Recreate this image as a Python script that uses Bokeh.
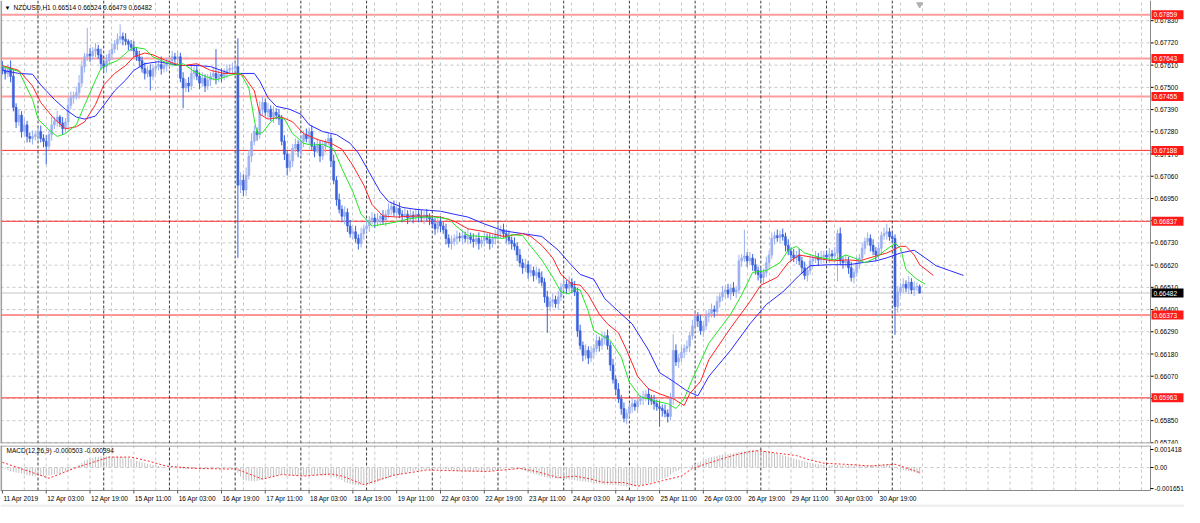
from bokeh.plotting import figure
from bokeh.models import Range1d, FixedTicker, Span, Label, ColumnDataSource
from bokeh.layouts import column
from bokeh.embed import file_html
from bokeh.resources import INLINE
from bokeh.core.properties import value

FONT = "Liberation Sans"
FS = "6.5px"

# ---------------- data (NZDUSD H1, bar index 0 = 11 Apr 2019 11:00) ----------------
closes = [
    0.67584, 0.67569, 0.67593, 0.67555, 0.67401, 0.67329, 0.67362, 0.67281, 0.67314, 0.67257, 0.67247, 0.67257, 0.67266,
    0.67281, 0.67247, 0.67233, 0.67208, 0.67266, 0.67314, 0.67334, 0.67353, 0.67324, 0.67295, 0.67329, 0.67411,
    0.67449, 0.67459, 0.67473, 0.67521, 0.67603, 0.67651, 0.67665, 0.67656, 0.67680, 0.67690, 0.67661, 0.67617,
    0.67603, 0.67632, 0.67665, 0.67690, 0.67714, 0.67738, 0.67752, 0.67738, 0.67728, 0.67714, 0.67699, 0.67680,
    0.67651, 0.67632, 0.67593, 0.67569, 0.67584, 0.67555, 0.67593, 0.67603, 0.67613, 0.67593, 0.67608, 0.67617,
    0.67632, 0.67651, 0.67641, 0.67651, 0.67545, 0.67497, 0.67521, 0.67507, 0.67569, 0.67584, 0.67555, 0.67521,
    0.67545, 0.67507, 0.67536, 0.67555, 0.67569, 0.67545, 0.67564, 0.67555, 0.67574, 0.67584, 0.67593, 0.67593,
    0.67603, 0.67016, 0.67040, 0.66992, 0.67064, 0.67160, 0.67233, 0.67281, 0.67266, 0.67391, 0.67425, 0.67377,
    0.67391, 0.67353, 0.67377, 0.67362, 0.67343, 0.67233, 0.67170, 0.67103, 0.67136, 0.67199, 0.67218, 0.67184,
    0.67233, 0.67266, 0.67247, 0.67281, 0.67208, 0.67184, 0.67218, 0.67160, 0.67208, 0.67233, 0.67247, 0.67136,
    0.67040, 0.66944, 0.66896, 0.66862, 0.66881, 0.66814, 0.66776, 0.66785, 0.66752, 0.66727, 0.66776, 0.66800,
    0.66814, 0.66843, 0.66853, 0.66833, 0.66848, 0.66862, 0.66843, 0.66872, 0.66896, 0.66910, 0.66881, 0.66901,
    0.66872, 0.66862, 0.66872, 0.66853, 0.66867, 0.66857, 0.66872, 0.66862, 0.66853, 0.66867, 0.66857, 0.66848,
    0.66824, 0.66800, 0.66833, 0.66814, 0.66795, 0.66752, 0.66727, 0.66737, 0.66752, 0.66761, 0.66756, 0.66766,
    0.66752, 0.66761, 0.66747, 0.66737, 0.66752, 0.66727, 0.66742, 0.66756, 0.66747, 0.66727, 0.66752, 0.66766,
    0.66785, 0.66795, 0.66776, 0.66761, 0.66742, 0.66727, 0.66713, 0.66670, 0.66631, 0.66607, 0.66622, 0.66583,
    0.66593, 0.66569, 0.66583, 0.66559, 0.66535, 0.66463, 0.66415, 0.66439, 0.66449, 0.66429, 0.66463, 0.66511,
    0.66525, 0.66506, 0.66535, 0.66511, 0.66487, 0.66295, 0.66222, 0.66174, 0.66198, 0.66160, 0.66189, 0.66208,
    0.66246, 0.66222, 0.66256, 0.66271, 0.66222, 0.66126, 0.66054, 0.66006, 0.65958, 0.65910, 0.65862, 0.65886,
    0.65919, 0.65934, 0.65919, 0.65948, 0.65958, 0.65968, 0.65982, 0.65958, 0.65948, 0.65934, 0.65919, 0.65910,
    0.65900, 0.65886, 0.65871, 0.65958, 0.66198, 0.66141, 0.66160, 0.66189, 0.66208, 0.66218, 0.66271, 0.66319,
    0.66367, 0.66343, 0.66295, 0.66319, 0.66367, 0.66381, 0.66400, 0.66391, 0.66439, 0.66463, 0.66487, 0.66497,
    0.66477, 0.66506, 0.66487, 0.66497, 0.66641, 0.66655, 0.66665, 0.66641, 0.66655, 0.66622, 0.66593, 0.66574,
    0.66559, 0.66583, 0.66632, 0.66670, 0.66752, 0.66766, 0.66756, 0.66771, 0.66761, 0.66718, 0.66689, 0.66670,
    0.66655, 0.66670, 0.66641, 0.66607, 0.66569, 0.66593, 0.66641, 0.66651, 0.66660, 0.66646, 0.66660, 0.66670,
    0.66660, 0.66675, 0.66665, 0.66680, 0.66776, 0.66641, 0.66632, 0.66641, 0.66607, 0.66559, 0.66583, 0.66632,
    0.66655, 0.66703, 0.66737, 0.66752, 0.66718, 0.66689, 0.66670, 0.66703, 0.66766, 0.66776, 0.66785, 0.66761,
    0.66752, 0.66415, 0.66487, 0.66511, 0.66525, 0.66506, 0.66535, 0.66497, 0.66511, 0.66514, 0.66482,
]
first_open = 0.67600

# wick lengths beyond the candle body, in pips
upper_wick_pips = [
    3, 2, 2, 4, 3, 2, 3, 2, 3, 2, 2, 3, 2,
    2, 3, 2, 3, 2, 4, 2, 3, 1, 3, 2, 4, 3, 2, 3, 4, 3, 2, 13, 3, 2, 3, 2, 3,
    2, 3, 2, 3, 2, 3, 6, 2, 3, 1, 2, 3, 2, 3, 2, 3, 2, 3, 2, 3, 2, 4, 2, 3,
    2, 3, 2, 3, 2, 3, 2, 3, 4, 2, 3, 2, 3, 2, 3, 2, 3, 12, 2, 3, 2, 3, 2, 3,
    3, 14, 4, 3, 4, 3, 4, 3, 2, 4, 3, 2, 3, 2, 3, 2, 3, 2, 3, 2, 3, 2, 3, 2,
    3, 2, 3, 2, 3, 2, 3, 2, 3, 1, 3, 2, 3, 2, 3, 2, 3, 2, 3, 2, 3, 2, 3, 2,
    3, 2, 3, 2, 3, 1, 3, 2, 3, 2, 3, 2, 3, 2, 3, 2, 3, 2, 3, 2, 3, 2, 3, 2,
    2, 3, 2, 3, 2, 3, 2, 3, 2, 3, 2, 3, 2, 4, 2, 3, 2, 3, 2, 3, 2, 3, 2, 3,
    5, 2, 3, 2, 3, 2, 3, 2, 3, 2, 3, 2, 3, 2, 3, 2, 3, 2, 3, 2, 3, 2, 3, 2,
    3, 2, 3, 2, 3, 2, 3, 2, 3, 2, 3, 2, 3, 2, 3, 2, 3, 2, 3, 2, 3, 2, 3, 2,
    2, 3, 2, 3, 2, 3, 2, 3, 2, 3, 2, 3, 2, 3, 2, 3, 8, 3, 2, 3, 2, 3, 2, 3,
    3, 2, 3, 2, 3, 2, 3, 2, 3, 2, 3, 2, 3, 2, 3, 2, 3, 2, 13, 2, 3, 2, 3, 2,
    3, 2, 3, 2, 3, 2, 3, 2, 3, 2, 3, 2, 3, 2, 3, 2, 3, 2, 3, 2, 3, 2, 3, 2,
    2, 3, 2, 3, 2, 3, 2, 3, 2, 3, 2, 3, 2, 3, 2, 3, 2, 3, 2, 3, 2, 3, 4, 2,
    2, 2, 3, 2, 3, 2, 3, 2, 3, 2, 1,
]
lower_wick_pips = [
    2, 3, 2, 3, 2, 3, 2, 3, 2, 3, 2, 3, 2,
    3, 2, 3, 9, 2, 3, 2, 3, 2, 3, 2, 3, 2, 3, 2, 3, 2, 3, 2, 3, 2, 3, 2, 3,
    2, 3, 2, 3, 2, 3, 2, 3, 2, 3, 2, 3, 2, 3, 2, 3, 2, 7, 2, 3, 2, 3, 2, 3,
    2, 3, 2, 3, 2, 10, 2, 3, 2, 3, 2, 3, 2, 3, 2, 3, 2, 3, 2, 3, 2, 3, 2, 3,
    2, 36, 4, 3, 3, 2, 3, 2, 3, 2, 3, 2, 3, 2, 3, 2, 3, 2, 3, 4, 2, 3, 2, 3,
    2, 3, 2, 3, 2, 3, 1, 3, 2, 3, 2, 3, 2, 3, 2, 3, 4, 3, 2, 3, 2, 3, 2, 3,
    2, 3, 2, 3, 2, 3, 2, 3, 2, 3, 2, 3, 2, 3, 1, 3, 2, 3, 2, 3, 2, 3, 2, 3,
    2, 3, 2, 3, 2, 3, 2, 3, 2, 3, 2, 3, 2, 3, 2, 3, 2, 3, 2, 3, 2, 3, 2, 3,
    2, 3, 2, 3, 2, 3, 2, 3, 2, 3, 2, 3, 2, 3, 2, 3, 2, 3, 13, 2, 3, 2, 3, 2,
    2, 3, 2, 3, 2, 3, 2, 3, 2, 3, 2, 3, 2, 3, 2, 3, 2, 3, 2, 3, 2, 3, 2, 3,
    2, 3, 2, 3, 2, 3, 2, 3, 2, 3, 2, 9, 3, 2, 3, 2, 3, 2, 3, 2, 3, 2, 3, 2,
    2, 3, 2, 3, 2, 3, 2, 3, 2, 3, 2, 3, 2, 3, 2, 3, 2, 3, 2, 3, 2, 3, 2, 3,
    2, 3, 2, 3, 2, 3, 2, 3, 2, 3, 2, 3, 2, 3, 2, 3, 2, 3, 2, 3, 2, 3, 2, 3,
    2, 3, 2, 3, 14, 2, 3, 2, 3, 2, 3, 2, 3, 2, 3, 2, 3, 2, 3, 2, 3, 2, 3, 2,
    2, 14, 3, 2, 3, 2, 3, 2, 3, 2, 0.3,
]

# Alligator lines (bar index, price)
lips_bars = [0, 6, 11, 13, 17, 20, 23, 27, 30, 34, 36, 39, 42, 46, 48, 52, 55, 59, 63, 66, 70, 73, 78, 83, 87, 90, 92, 93, 95, 98,
             100, 103, 106, 110, 113, 117, 121, 124, 128, 131, 135, 140, 144, 148, 153, 158, 163, 166, 170, 175, 183, 186, 190, 193,
             197, 201, 204, 207, 209, 211, 214, 216, 219, 222, 226, 229, 233, 238, 243, 246, 249, 252, 258, 266, 270, 274, 279, 284,
             287, 290, 293, 299, 304, 308, 311, 315, 319, 322, 326, 328, 330, 334, 337]
lips_vals = [0.67603, 0.67579, 0.67440, 0.67343, 0.67290, 0.67257, 0.67271, 0.67315, 0.67411, 0.67536, 0.67593, 0.67617, 0.67632,
             0.67680, 0.67699, 0.67690, 0.67651, 0.67627, 0.67608, 0.67617, 0.67579, 0.67560, 0.67536, 0.67560, 0.67569, 0.67497,
             0.67339, 0.67271, 0.67276, 0.67329, 0.67353, 0.67343, 0.67271, 0.67223, 0.67214, 0.67218, 0.67194, 0.67098, 0.66983,
             0.66872, 0.66814, 0.66824, 0.66834, 0.66848, 0.66858, 0.66858, 0.66848, 0.66810, 0.66766, 0.66762, 0.66752, 0.66771,
             0.66766, 0.66713, 0.66646, 0.66560, 0.66487, 0.66478, 0.66502, 0.66497, 0.66391, 0.66295, 0.66271, 0.66247, 0.66165,
             0.66040, 0.65968, 0.65949, 0.65934, 0.65910, 0.65959, 0.66055, 0.66233, 0.66377, 0.66473, 0.66584, 0.66593, 0.66632,
             0.66694, 0.66713, 0.66680, 0.66656, 0.66646, 0.66670, 0.66656, 0.66632, 0.66656, 0.66689, 0.66728, 0.66704, 0.66598,
             0.66550, 0.66526]
teeth_bars = [0, 6, 11, 14, 19, 23, 27, 30, 34, 37, 41, 45, 48, 52, 55, 59, 63, 66, 71, 76, 81, 85, 88, 92, 94, 97, 102, 106, 110,
              115, 120, 124, 128, 132, 135, 139, 144, 150, 156, 160, 165, 170, 176, 183, 190, 193, 197, 201, 204, 208, 211, 214,
              218, 221, 225, 228, 232, 236, 240, 245, 249, 251, 255, 258, 266, 273, 277, 283, 287, 291, 297, 303, 309, 313, 319,
              323, 328, 330, 333, 335, 340]
teeth_vals = [0.67608, 0.67584, 0.67507, 0.67425, 0.67343, 0.67295, 0.67305, 0.67329, 0.67415, 0.67512, 0.67569, 0.67608,
              0.67651, 0.67670, 0.67661, 0.67637, 0.67617, 0.67608, 0.67617, 0.67584, 0.67569, 0.67569, 0.67560, 0.67483,
              0.67367, 0.67343, 0.67353, 0.67329, 0.67271, 0.67242, 0.67223, 0.67194, 0.67113, 0.67016, 0.66920, 0.66863,
              0.66858, 0.66863, 0.66863, 0.66858, 0.66838, 0.66800, 0.66786, 0.66762, 0.66776, 0.66762, 0.66718, 0.66656,
              0.66574, 0.66526, 0.66521, 0.66473, 0.66377, 0.66329, 0.66285, 0.66199, 0.66069, 0.66007, 0.65983, 0.65959,
              0.65925, 0.65983, 0.66045, 0.66151, 0.66310, 0.66439, 0.66521, 0.66560, 0.66632, 0.66670, 0.66656, 0.66641,
              0.66646, 0.66641, 0.66665, 0.66680, 0.66713, 0.66713, 0.66670, 0.66622, 0.66569]
jaw_bars = [0, 6, 11, 14, 19, 23, 27, 30, 34, 37, 41, 45, 48, 52, 57, 61, 66, 71, 76, 83, 92, 94, 97, 100, 105, 109, 112, 117,
            122, 127, 130, 134, 138, 141, 146, 151, 156, 160, 165, 170, 176, 183, 190, 197, 203, 207, 211, 216, 220, 225, 230,
            236, 240, 245, 250, 254, 258, 266, 273, 279, 285, 291, 295, 302, 309, 314, 319, 323, 328, 333, 337, 341, 346, 351]
jaw_vals = [0.67584, 0.67569, 0.67565, 0.67512, 0.67440, 0.67391, 0.67353, 0.67343, 0.67358, 0.67411, 0.67483, 0.67536,
            0.67584, 0.67617, 0.67627, 0.67617, 0.67608, 0.67608, 0.67603, 0.67569, 0.67569, 0.67531, 0.67449, 0.67406,
            0.67391, 0.67367, 0.67315, 0.67281, 0.67266, 0.67223, 0.67175, 0.67079, 0.66983, 0.66935, 0.66906, 0.66896,
            0.66891, 0.66887, 0.66872, 0.66858, 0.66824, 0.66790, 0.66776, 0.66762, 0.66694, 0.66632, 0.66574, 0.66550,
            0.66454, 0.66391, 0.66329, 0.66199, 0.66088, 0.66045, 0.65997, 0.65973, 0.66069, 0.66199, 0.66329, 0.66425,
            0.66487, 0.66569, 0.66617, 0.66622, 0.66622, 0.66632, 0.66641, 0.66656, 0.66680, 0.66694, 0.66656, 0.66617,
            0.66593, 0.66569]

# horizontal levels
levels_light = [0.67859, 0.67643, 0.67455]
levels_red = [0.67188, 0.66837, 0.66373, 0.65963]
price_ticks = [0.65740, 0.65850, 0.65960, 0.66070, 0.66180, 0.66290, 0.66400, 0.66510, 0.66620, 0.66730,
               0.66840, 0.66950, 0.67060, 0.67170, 0.67280, 0.67390, 0.67500, 0.67610, 0.67720, 0.67830]

# time axis
time_tick_bars = [0, 16, 32, 48, 64, 80, 96, 112, 128, 144, 160, 176, 192, 208, 224, 240, 256, 272, 288, 304, 320]
time_labels = ["11 Apr 2019", "12 Apr 03:00", "12 Apr 19:00", "15 Apr 11:00", "16 Apr 03:00", "16 Apr 19:00",
               "17 Apr 11:00", "18 Apr 03:00", "18 Apr 19:00", "19 Apr 11:00", "22 Apr 03:00", "22 Apr 19:00",
               "23 Apr 11:00", "24 Apr 03:00", "24 Apr 19:00", "25 Apr 11:00", "26 Apr 03:00", "26 Apr 19:00",
               "29 Apr 11:00", "30 Apr 03:00", "30 Apr 19:00"]
day_start_bars = [13, 37, 61, 85, 109, 133, 157, 181, 205, 229, 253, 277, 301, 325]
grid_bars = list(range(8, 420, 8))

# MACD(12,26,9): main line (histogram) per bar and signal line, in units of 1e-5
macd_hist_e5 = [
    -5, -12, -20, -28, -35, -40, -43, -48, -55, -60, -64, -67, -68, -68, -67, -66, -64, -62,
    -58, -54, -49, -44, -38, -31, -24, -16, -6, 5, 20, 36, 53, 62, 70, 76, 82, 85,
    87, 88, 89, 89, 88, 87, 86, 85, 84, 80, 74, 67, 60, 53, 47, 41, 35, 30,
    26, 21, 17, 12, 8, 4, 1, -2, -4, -6, -8, -10, -11, -12, -12, -12, -12, -12,
    -11, -11, -10, -10, -9, -9, -8, -8, -8, -7, -7, -7, -6, -7, -40, -70, -98, -102,
    -105, -107, -108, -106, -100, -92, -85, -79, -74, -69, -64, -59, -56, -55, -56, -58, -60, -62,
    -64, -65, -65, -64, -63, -62, -61, -60, -61, -62, -64, -66, -67, -72, -80, -90, -100, -115,
    -122, -128, -133, -136, -139, -139, -138, -136, -134, -128, -120, -112, -103, -95, -88, -81, -74, -67,
    -61, -55, -49, -43, -37, -31, -27, -23, -20, -17, -15, -14, -13, -13, -12, -12, -12, -12,
    -15, -19, -23, -26, -29, -31, -32, -32, -32, -32, -31, -31, -30, -29, -28, -26, -24, -22,
    -18, -14, -10, -7, -7, -8, -9, -10, -11, -12, -18, -26, -35, -42, -49, -55, -62, -68,
    -74, -79, -82, -84, -86, -88, -89, -90, -91, -94, -97, -100, -103, -106, -110, -112, -115, -118,
    -121, -124, -127, -130, -133, -135, -136, -137, -139, -141, -145, -148, -151, -150, -148, -146, -143, -139,
    -135, -130, -125, -120, -115, -107, -99, -91, -82, -74, -55, -40, -31, -22, -14, -8, -2, 8,
    18, 27, 36, 46, 56, 66, 77, 82, 87, 92, 97, 101, 104, 107, 110, 113, 118, 122,
    126, 130, 134, 137, 137, 136, 135, 134, 133, 132, 128, 120, 113, 108, 102, 96, 90, 84,
    78, 72, 66, 60, 53, 47, 42, 38, 34, 29, 26, 23, 21, 19, 17, 17, 17, 18,
    17, 17, 17, 17, 16, 16, 16, 17, 17, 17, 18, 19, 20, 21, 22, 23, 24, 25,
    26, 20, 5, -8, -19, -22, -25, -28, -31, -38, -44, -50.3,
]
signal_bars = [0, 17, 27, 39, 47, 53, 60, 71, 83, 85, 95, 102, 110, 120, 124, 132, 143, 155, 167, 177, 189, 195, 203, 209,
               215, 219, 227, 232, 237, 241, 248, 252, 257, 263, 268, 273, 276, 283, 290, 294, 300, 311, 317, 323, 326, 329, 335]
signal_e5 = [41, -84, 0, 82, 82, 53, 10, -7, -12, -8, -91, -55, -67, -50, -67, -134, -60, -19, -26, -31, -7, -31, -79, -67,
             -91, -115, -118, -146, -127, -103, -67, -7, 29, 70, 101, 125, 132, 113, 94, 65, 34, 22, 12, 22, 26, 5, -39.4]
macd_range = (-0.001651, 0.001418)

n = len(closes)
assert len(upper_wick_pips) == n and len(lower_wick_pips) == n and len(macd_hist_e5) == n, \
    (n, len(upper_wick_pips), len(lower_wick_pips), len(macd_hist_e5))

opens = [first_open] + closes[:-1]
xs = list(range(n))
tops = [max(o, c) for o, c in zip(opens, closes)]
bots = [min(o, c) for o, c in zip(opens, closes)]
highs = [t + u * 1e-4 for t, u in zip(tops, upper_wick_pips)]
lows = [b - l * 1e-4 for b, l in zip(bots, lower_wick_pips)]
BULL, BEAR = "#9cb0f0", "#3a62dc"
cols = [BULL if c >= o else BEAR for o, c in zip(opens, closes)]
cur_price = closes[-1]

# ---------------- geometry ----------------
FW = 1184                 # frame width in px (chart + price scale area)
PPB = 2.738               # px per bar
X0 = -0.7
X1 = X0 + FW / PPB
PX = 1.0 / PPB            # one pixel, in bar units
AX = X0 + 1150 * PX       # position of the price scale line
Y0, Y1 = 0.65737, 0.67930
FH = 443
PY = (Y1 - Y0) / FH
XR = Range1d(X0, X1)
AXIS_GREY = "#8a8a8a"
GRID = "#c8c8c8"
SEP = "#3a3a3a"


def text_list(fig, xv, yv, labels, color="#000000", align="left"):
    fig.text(x=xv, y=yv, text=labels, text_font=value(FONT), text_font_size=value(FS),
             text_baseline="middle", text_align=align, text_color=color)


# ---------------- main price panel ----------------
p = figure(frame_width=FW, frame_height=FH, x_range=XR, y_range=Range1d(Y0, Y1),
           x_axis_location=None, y_axis_location=None, output_backend="svg", toolbar_location=None,
           min_border_left=0, min_border_right=0, min_border_top=0, min_border_bottom=2)
p.background_fill_color = "white"
p.border_fill_color = "white"
p.outline_line_color = None
p.ygrid.visible = False
p.xgrid.ticker = FixedTicker(ticks=grid_bars)
p.xgrid.grid_line_color = GRID
p.xgrid.grid_line_dash = "3 3"

m = len(price_ticks)
p.segment(x0=[X0] * m, y0=price_ticks, x1=[AX] * m, y1=price_ticks, line_color=GRID,
          line_dash="3 3", line_width=1, level="underlay")
for b in day_start_bars:
    p.add_layout(Span(location=b, dimension="height", line_color=SEP, line_dash="3 2", line_width=1,
                      level="underlay"))
lv_all = levels_light + levels_red
p.segment(x0=[X0] * 3, y0=levels_light, x1=[AX] * 3, y1=levels_light, line_color="#ff9c9c", line_width=2,
          level="underlay")
p.segment(x0=[X0] * 4, y0=levels_red, x1=[AX] * 4, y1=levels_red, line_color="#ff2a2a", line_width=1,
          level="underlay")
p.segment(x0=[X0], y0=[cur_price], x1=[AX], y1=[cur_price], line_color="#c4c4c4", line_width=1, level="underlay")

src = ColumnDataSource(dict(x=xs, top=tops, bottom=bots, high=highs, low=lows, color=cols))
p.segment(x0="x", y0="low", x1="x", y1="high", line_color="color", line_width=1, source=src)
p.vbar(x="x", width=0.72, top="top", bottom="bottom", fill_color="color", line_color="color", line_width=0.6,
       source=src)

p.line(jaw_bars, jaw_vals, line_color="#2a2aff", line_width=1)
p.line(teeth_bars, teeth_vals, line_color="#ff2424", line_width=1)
p.line(lips_bars, lips_vals, line_color="#22e622", line_width=1)

p.scatter([n - 1], [Y1 - 4 * PY], marker="inverted_triangle", size=6, fill_color="#b0b0b0", line_color="#b0b0b0")

# frame lines and price scale
p.add_layout(Span(location=AX, dimension="height", line_color=AXIS_GREY, line_width=1))
p.add_layout(Span(location=X0 + 0.6 * PX, dimension="height", line_color="#a0a0a0", line_width=2))
p.segment(x0=[X0], y0=[Y0 + 0.5 * PY], x1=[AX], y1=[Y0 + 0.5 * PY], line_color=AXIS_GREY, line_width=1)
p.segment(x0=[AX] * m, y0=price_ticks, x1=[AX + 3 * PX] * m, y1=price_ticks, line_color="#000000", line_width=1)
text_list(p, [AX + 4 * PX] * m, price_ticks, [f"{t:.5f}" for t in price_ticks])

k = len(lv_all)
p.quad(left=[AX + 1 * PX] * k, right=[AX + 33 * PX] * k, bottom=[v - 4.5 * PY for v in lv_all],
       top=[v + 4.5 * PY for v in lv_all], fill_color="#ff1a1a", line_color=None)
text_list(p, [AX + 3 * PX] * k, lv_all, [f"{v:.5f}" for v in lv_all], color="#ffffff")
p.quad(left=[AX + 1 * PX], right=[AX + 33 * PX], bottom=[cur_price - 4.5 * PY], top=[cur_price + 4.5 * PY],
       fill_color="#000000", line_color=None)
text_list(p, [AX + 3 * PX], [cur_price], [f"{cur_price:.5f}"], color="#ffffff")

o, h, l, c = opens[-1], highs[-1], lows[-1], closes[-1]
p.add_layout(Label(x=X0 + 4 * PX, y=Y1 - 7 * PY, text="\u25bc", text_font=FONT, text_font_size="6px",
                   text_baseline="middle", text_color="#000000"))
p.add_layout(Label(x=X0 + 13 * PX, y=Y1 - 7 * PY, text=f"NZDUSD,H1  {o:.5f} {h:.5f} {l:.5f} {c:.5f}",
                   text_font=FONT, text_font_size=FS, text_baseline="middle", text_color="#000000"))

# ---------------- MACD panel (with the time scale drawn beneath it) ----------------
lo, hi = macd_range
span = hi - lo
QY0, QY1 = lo - span * 0.05, hi + span * 0.102      # indicator window
QFH = 45
QPY = (QY1 - QY0) / QFH
LAB_H = 17                                           # px for the time scale
QYB = QY0 - LAB_H * QPY
q = figure(frame_width=FW, frame_height=QFH + LAB_H, x_range=XR, y_range=Range1d(QYB, QY1),
           x_axis_location=None, y_axis_location=None, output_backend="svg", toolbar_location=None,
           min_border_left=0, min_border_right=0, min_border_top=0, min_border_bottom=0)
q.background_fill_color = "white"
q.border_fill_color = "white"
q.outline_line_color = None
q.grid.visible = False

g = len(grid_bars)
q.segment(x0=grid_bars, y0=[QY0] * g, x1=grid_bars, y1=[QY1] * g, line_color=GRID, line_dash="3 3",
          level="underlay")
d = len(day_start_bars)
q.segment(x0=day_start_bars, y0=[QY0] * d, x1=day_start_bars, y1=[QY1] * d, line_color=SEP, line_dash="3 2",
          level="underlay")
q.segment(x0=[X0], y0=[0.0], x1=[AX], y1=[0.0], line_color=GRID, line_dash="3 3", level="underlay")

macd_hist = [v * 1e-5 for v in macd_hist_e5]
signal_vals = [v * 1e-5 for v in signal_e5]
q.segment(x0=xs, y0=[0.0] * n, x1=xs, y1=macd_hist, line_color="#c2c2c2", line_width=1)
q.line(signal_bars, signal_vals, line_color="#ff2a2a", line_width=1, line_dash="2 2")
q.add_layout(Label(x=X0 + 6 * PX, y=QY1 - 5 * QPY,
                   text=f"MACD(12,26,9) {macd_hist[-1]:.6f} {signal_vals[-1]:.6f}",
                   text_font=FONT, text_font_size=FS, text_baseline="middle", text_color="#000000"))

# panel frame lines, value scale
q.segment(x0=[AX], y0=[QY0], x1=[AX], y1=[QY1], line_color=AXIS_GREY, line_width=1)
q.segment(x0=[X0 + 0.6 * PX], y0=[QY0], x1=[X0 + 0.6 * PX], y1=[QY1], line_color="#a0a0a0", line_width=2)
q.segment(x0=[X0, X0], y0=[QY1 - 0.5 * QPY, QY0], x1=[AX, AX], y1=[QY1 - 0.5 * QPY, QY0],
          line_color=AXIS_GREY, line_width=1)
macd_ticks = [hi, 0.0, lo]
macd_tick_labels = [f"{hi:.6f}", "0.00", f"{lo:.6f}"]
q.segment(x0=[AX] * 3, y0=macd_ticks, x1=[AX + 3 * PX] * 3, y1=macd_ticks, line_color="#000000", line_width=1)
text_list(q, [AX + 4 * PX] * 3, macd_ticks, macd_tick_labels)

# time scale
t = len(time_tick_bars)
q.segment(x0=time_tick_bars, y0=[QY0] * t, x1=time_tick_bars, y1=[QY0 - 3 * QPY] * t, line_color="#555555",
          line_width=1)
text_list(q, [b + 1 * PX for b in time_tick_bars], [QY0 - 8 * QPY] * t, time_labels)
q.quad(left=[X0], right=[X1], bottom=[QYB], top=[QYB + 3 * QPY], fill_color="#f0f0f0", line_color=None)

layout = column(p, q, spacing=0)
open("out.html", "w").write(file_html(layout, INLINE))
